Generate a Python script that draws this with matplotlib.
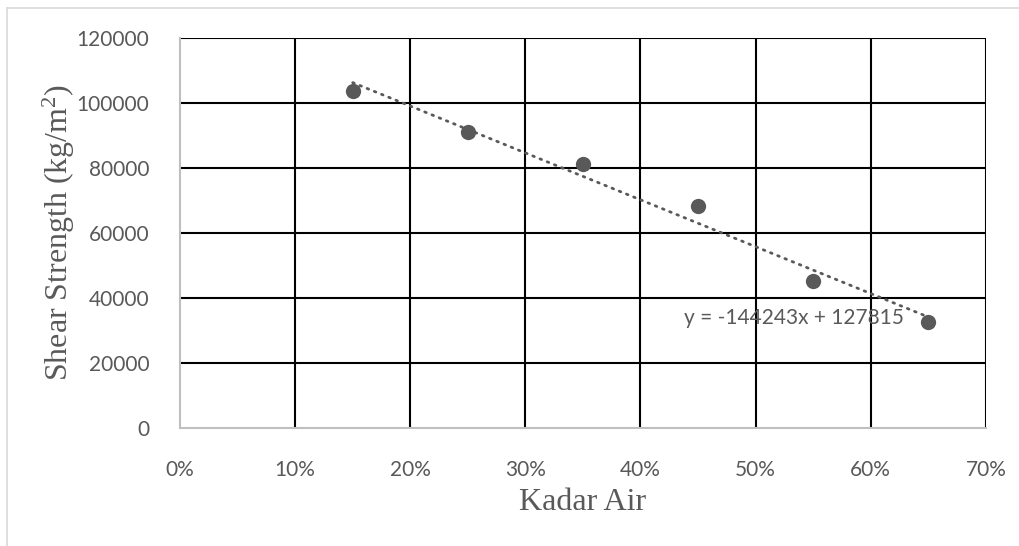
import numpy as np
import matplotlib
matplotlib.use("Agg")
import matplotlib.pyplot as plt
from matplotlib.ticker import PercentFormatter

# data (water content as fraction, shear strength kg/m2)
kadar_air = [0.15, 0.25, 0.35, 0.45, 0.55, 0.65]
shear_strength = [103600, 90900, 81000, 68200, 45200, 32600]

# linear trendline as printed on the chart
slope = -144243
intercept = 127815
eq_label = "y = -144243x + 127815"

x_ticks = [0.0, 0.1, 0.2, 0.3, 0.4, 0.5, 0.6, 0.7]
y_ticks = [0, 20000, 40000, 60000, 80000, 100000, 120000]

grey = "#595959"
tick_font = ["Lato", "DejaVu Sans"]
label_font = ["Liberation Serif", "DejaVu Serif"]

plt.rcParams["mathtext.fontset"] = "custom"
plt.rcParams["mathtext.rm"] = "Liberation Serif"
plt.rcParams["mathtext.it"] = "Liberation Serif:italic"

fig = plt.figure(figsize=(10.2, 5.46), dpi=100)
ax = fig.add_axes([0.1765, 0.2167, 0.79, 0.7143])

# grid - black, the outer left/bottom edges are grey spines
for xv in x_ticks[1:]:
    ax.axvline(xv, color="black", lw=1.5, zorder=1)
for yv in y_ticks[1:]:
    ax.axhline(yv, color="black", lw=1.5, zorder=1)

for s in ["top", "right"]:
    ax.spines[s].set_visible(False)
for s in ["left", "bottom"]:
    ax.spines[s].set_color("#bfbfbf")
    ax.spines[s].set_linewidth(1.5)
    ax.spines[s].set_zorder(2)

# trendline
tx = np.array([kadar_air[0], kadar_air[-1]])
ax.plot(tx, slope * tx + intercept, color=grey, lw=2.0,
        linestyle=(0, (0.6, 2.2)), dash_capstyle="round", zorder=3)

ax.plot(kadar_air, shear_strength, "o", color=grey, markersize=11,
        markeredgewidth=0, zorder=4)

ax.text(0.4374, 33700, eq_label, color=grey, fontsize=15,
        family=tick_font, ha="left", va="center", zorder=5)

ax.set_xlim(0, 0.7)
ax.set_ylim(0, 120000)
ax.set_xticks(x_ticks)
ax.set_yticks(y_ticks)
ax.xaxis.set_major_formatter(PercentFormatter(1.0, decimals=0))
ax.tick_params(length=0, colors=grey, labelsize=15)
ax.tick_params(axis="y", pad=22)
ax.tick_params(axis="x", pad=23)
for lab in ax.get_xticklabels() + ax.get_yticklabels():
    lab.set_family(tick_font)

ax.set_xlabel("Kadar Air", fontsize=23, color=grey, family=label_font,
              labelpad=6)
ax.set_ylabel(r"Shear Strength (kg/m$^{\mathrm{2}}$)", fontsize=23,
              color=grey, family=label_font, labelpad=0)

# faint outer chart frame (top and left edges visible)
fig.add_artist(plt.Line2D([7 / 1020, 1], [1 - 8 / 546, 1 - 8 / 546],
                          color="#d9d9d9", lw=1.2))
fig.add_artist(plt.Line2D([7 / 1020, 7 / 1020], [0, 1 - 8 / 546],
                          color="#d9d9d9", lw=1.2))

fig.savefig("out.png", dpi=100)
